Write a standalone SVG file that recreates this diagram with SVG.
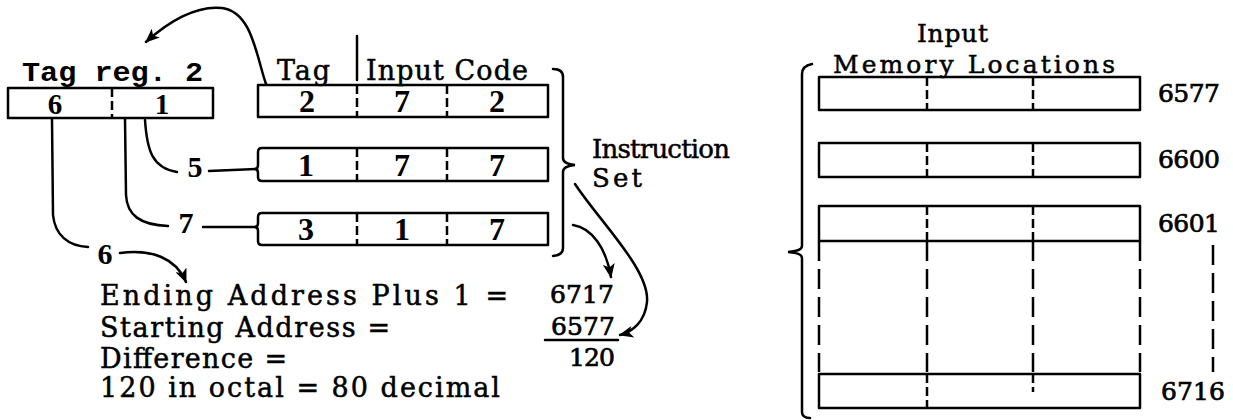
<svg xmlns="http://www.w3.org/2000/svg" width="1233" height="420" viewBox="0 0 1233 420">
<style>
.bx{fill:none;stroke:#000;stroke-width:2.5;stroke-linejoin:round}
.dv{stroke:#000;stroke-width:2.5;stroke-dasharray:9 4}
.dl{stroke:#000;stroke-width:2.5;stroke-dasharray:20 8}
.ln{fill:none;stroke:#000;stroke-width:2.5;stroke-linecap:round}
.t{font-family:"DejaVu Serif",serif;fill:#000;stroke:#000;stroke-width:0.5}
.n{font-family:"DejaVu Serif",serif;fill:#000;stroke:#000;stroke-width:0.7;font-size:25px}
.d{font-family:"Liberation Serif",serif;font-weight:bold;fill:#000;text-anchor:middle}
.m{font-family:"Liberation Mono",monospace;font-weight:bold;fill:#000}
</style>
<defs>
<marker id="ah" viewBox="0 0 12 10" refX="11" refY="5" markerWidth="15" markerHeight="12" markerUnits="userSpaceOnUse" orient="auto">
<path d="M0,0 L12,5 L0,10 L3,5 Z" fill="#000"/>
</marker>
</defs>
<rect width="1233" height="420" fill="#fff"/>

<g id="tagreg">
<text class="m" x="22" y="81" font-size="27" textLength="181" lengthAdjust="spacingAndGlyphs">Tag reg. 2</text>
<rect class="bx" x="8" y="88" width="205" height="30"/>
<line class="dv" x1="112" y1="88" x2="112" y2="118"/>
<text class="d" x="55" y="114" font-size="29">6</text>
<text class="d" x="162" y="114" font-size="29">1</text>
</g>

<g id="instr1">
<text class="t" x="277" y="80" font-size="27" textLength="53">Tag</text>
<text class="t" x="366" y="80" font-size="27" textLength="162">Input Code</text>
<line class="ln" x1="357" y1="36" x2="357" y2="80"/>
<rect class="bx" x="258" y="85" width="290" height="32"/>
<line class="dv" x1="357" y1="85" x2="357" y2="117"/>
<line class="dv" x1="447" y1="85" x2="447" y2="117"/>
<text class="d" x="307" y="112" font-size="32">2</text>
<text class="d" x="402" y="112" font-size="32">7</text>
<text class="d" x="497" y="112" font-size="32">2</text>
</g>

<g id="instr2">
<path class="bx" d="M262,148 L548,148 L548,181 L262,181 Q258,181 258,177 L258,173 Q258,169 255,169 Q258,169 258,165 L258,152 Q258,148 262,148 Z"/>
<line class="dv" x1="357" y1="148" x2="357" y2="181"/>
<line class="dv" x1="447" y1="148" x2="447" y2="181"/>
<text class="d" x="306" y="176" font-size="32">1</text>
<text class="d" x="402" y="176" font-size="32">7</text>
<text class="d" x="497" y="176" font-size="32">7</text>
</g>

<g id="instr3">
<path class="bx" d="M262,213 L548,213 L548,245 L262,245 Q258,245 258,241 L258,231 Q258,227 255,227 Q258,227 258,223 L258,217 Q258,213 262,213 Z"/>
<line class="dv" x1="357" y1="213" x2="357" y2="245"/>
<line class="dv" x1="447" y1="213" x2="447" y2="245"/>
<text class="d" x="306" y="240" font-size="32">3</text>
<text class="d" x="402" y="240" font-size="32">1</text>
<text class="d" x="497" y="240" font-size="32">7</text>
</g>

<g id="instrset">
<path class="ln" d="M553,69 Q563,69 563,77 L563,158 Q563,164 575,165 Q563,166 563,172 L563,248 Q563,255 553,256"/>
<text class="t" x="592" y="158" font-size="26" textLength="138">Instruction</text>
<text class="t" x="592" y="187" font-size="26" textLength="50">Set</text>
</g>

<g id="labels">
<text class="d" x="195" y="177" font-size="30">5</text>
<text class="d" x="186" y="233" font-size="30">7</text>
<text class="d" x="105" y="264" font-size="30">6</text>
</g>

<g id="calc">
<text class="t" x="100" y="305" font-size="27" textLength="408">Ending Address Plus 1 =</text>
<text class="t" x="100" y="337" font-size="27" textLength="290">Starting Address =</text>
<text class="t" x="100" y="368" font-size="27" textLength="187">Difference =</text>
<text class="t" x="100" y="397" font-size="27" textLength="400">120 in octal = 80 decimal</text>
<text class="n" x="550" y="303" textLength="64">6717</text>
<text class="n" x="551" y="335" textLength="64">6577</text>
<line class="ln" x1="545" y1="340" x2="618" y2="340"/>
<text class="n" x="569" y="366" textLength="46">120</text>
</g>

<g id="memory">
<path class="ln" d="M812,64 Q802,66 802,74 L802,246 Q802,251 788,252 Q802,253 802,258 L802,412 Q802,418 810,418"/>
<text class="t" x="917" y="42" font-size="25" textLength="71">Input</text>
<text class="t" x="833" y="73" font-size="25" textLength="282">Memory Locations</text>
<rect class="bx" x="819" y="77" width="321" height="33"/>
<line class="dv" x1="927" y1="77" x2="927" y2="110"/>
<line class="dv" x1="1033" y1="77" x2="1033" y2="110"/>
<rect class="bx" x="819" y="143" width="321" height="34"/>
<line class="dv" x1="927" y1="143" x2="927" y2="177"/>
<line class="dv" x1="1033" y1="143" x2="1033" y2="177"/>
<rect class="bx" x="819" y="206" width="321" height="35"/>
<line class="dv" x1="927" y1="206" x2="927" y2="241"/>
<line class="dv" x1="1033" y1="206" x2="1033" y2="241"/>
<line class="dl" x1="819" y1="241" x2="819" y2="372"/>
<line class="dl" x1="927" y1="241" x2="927" y2="372"/>
<line class="dl" x1="1033" y1="241" x2="1033" y2="372"/>
<line class="dl" x1="1140" y1="241" x2="1140" y2="372"/>
<line class="dl" x1="1213" y1="245" x2="1213" y2="372"/>
<rect class="bx" x="819" y="374" width="321" height="34"/>
<line class="dv" x1="927" y1="374" x2="927" y2="408"/>
<line class="dv" x1="1033" y1="374" x2="1033" y2="392"/>
<text class="n" x="1158" y="102" textLength="62">6577</text>
<text class="n" x="1158" y="168" textLength="62">6600</text>
<text class="n" x="1158" y="232" textLength="62">6601</text>
<text class="n" x="1161" y="400" textLength="64">6716</text>
</g>

<g id="connectors">
<path class="ln" d="M266,84 C256,55 252,12 222,8 C196,5 168,22 146,42" marker-end="url(#ah)"/>
<path class="ln" d="M145,120 C147,150 152,168 177,172"/>
<path class="ln" d="M125,119 L126,195 C127,215 140,225 168,226"/>
<path class="ln" d="M52,119 L53,215 C55,235 68,246 88,247"/>
<path class="ln" d="M209,171 L256,169"/>
<path class="ln" d="M203,227 L256,227"/>
<path class="ln" d="M120,253 C152,249 176,258 186,282" marker-end="url(#ah)"/>
<path class="ln" d="M575,184 C600,222 650,270 647,302 C645,322 632,332 620,335" marker-end="url(#ah)"/>
<path class="ln" d="M573,225 C592,228 606,248 611,277" marker-end="url(#ah)"/>
</g>
</svg>
